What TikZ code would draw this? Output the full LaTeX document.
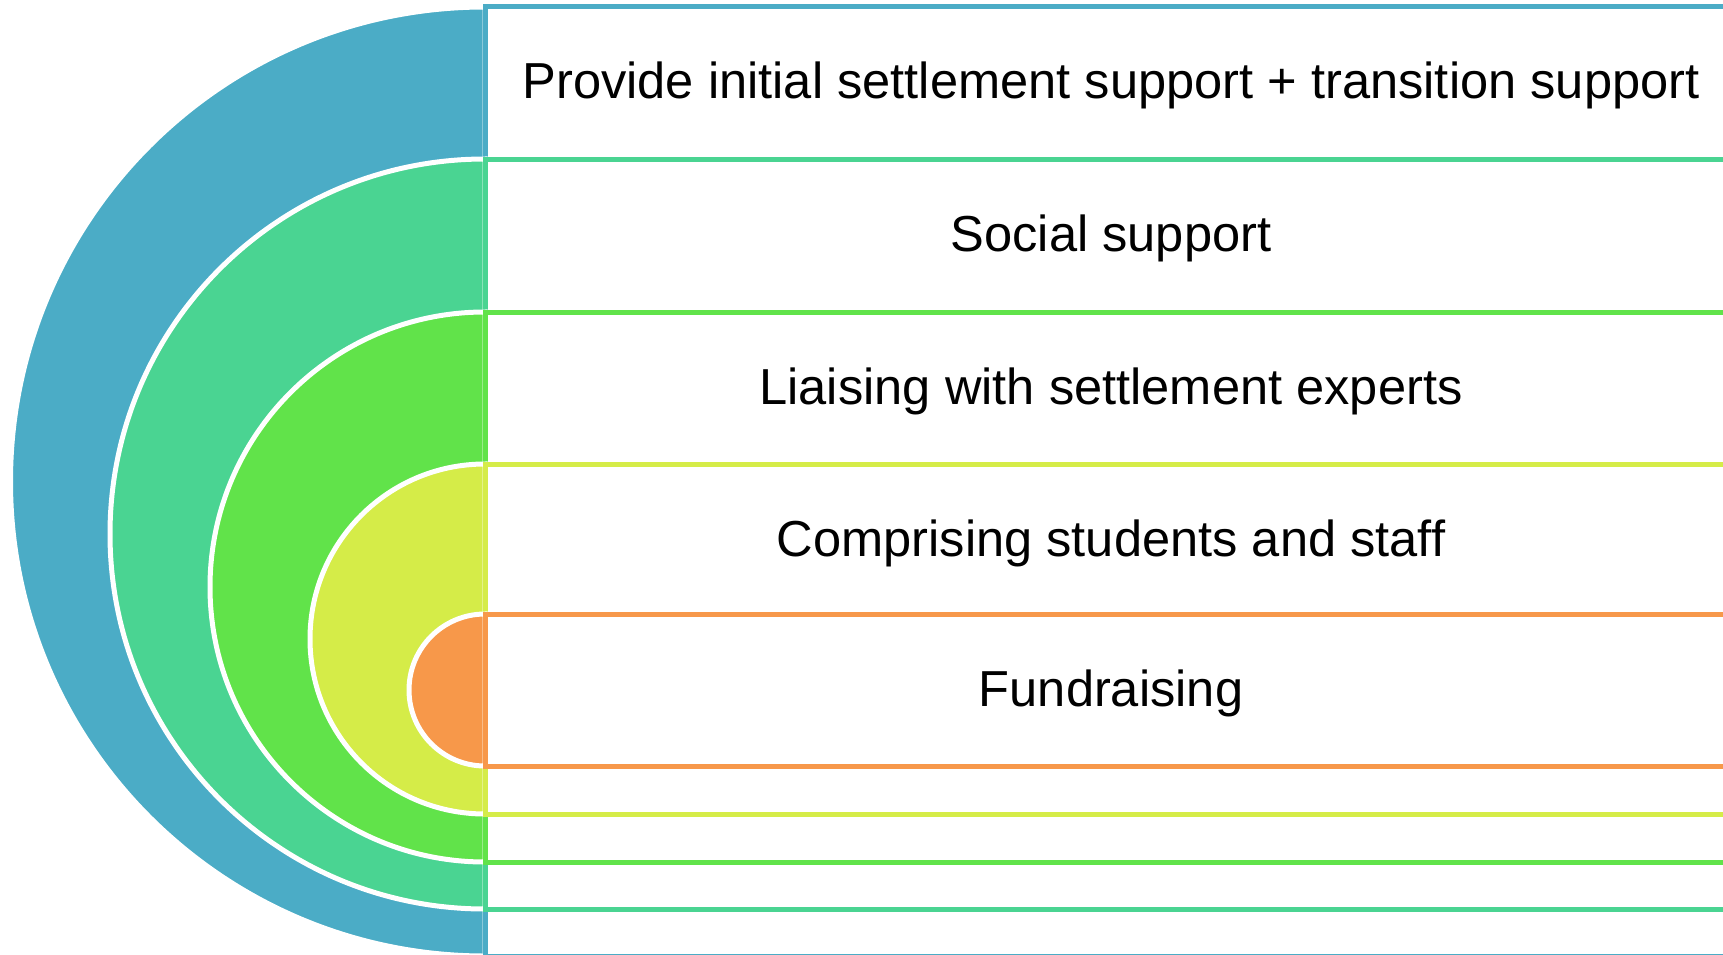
\documentclass[tikz,border=0pt]{standalone}
\usepackage{fontspec}
\setmainfont{Liberation Sans}
\definecolor{ringA}{HTML}{4BACC6}
\definecolor{ringB}{HTML}{4AD492}
\definecolor{ringC}{HTML}{61E34A}
\definecolor{ringD}{HTML}{D5EC48}
\definecolor{ringE}{HTML}{F7984A}
\tikzset{every picture/.style={x=1pt, y=-1pt}}
\tikzset{lbl/.style={anchor=base, font=\fontsize{50.6}{61}\selectfont}}

\begin{document}
\begin{tikzpicture}
      \def\cx{485}
      \def\bx{1737}
      \def\lw{5pt}
      \def\tx{1111}

      \useasboundingbox (0,0) rectangle (1723,955);
      \clip (0,0) rectangle (1723,955);

      % Half discs and boxes
      \foreach \r/\cy/\col in {474.5/481.5/ringA, 375/534/ringB, 275/587/ringC, 175/639/ringD, 76/690/ringE}{
        \fill[\col, draw=white, line width=\lw] (\cx,\cy+\r) arc (90:270:\r) -- cycle;
        \draw[\col, line width=\lw, fill=white] (\cx,\cy-\r) rectangle (\bx,\cy+\r);
      }

      % Labels
      \node[lbl] (support) at (\tx,99) {Provide initial settlement support + transition support};
      \node[lbl] (social) at (\tx,251) {Social support};
      \node[lbl] (liaising) at (\tx,404) {Liaising with settlement experts};
      \node[lbl] (comprising) at (\tx,556) {Comprising students and staff};
      \node[lbl] (fundraising) at (\tx,706) {Fundraising};
\end{tikzpicture}
\end{document}
